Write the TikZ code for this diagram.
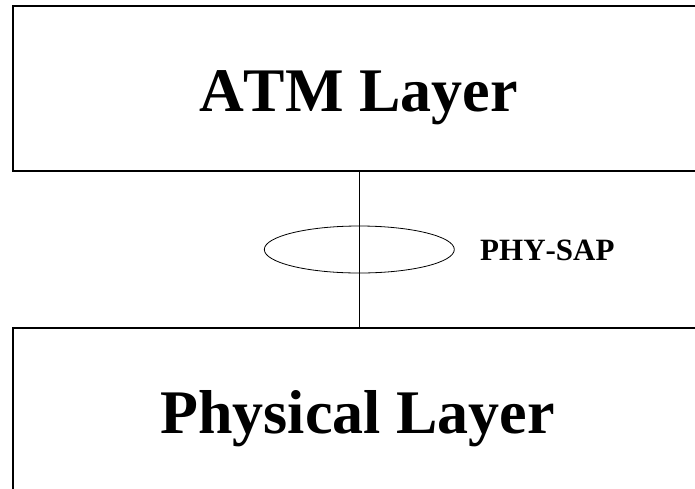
\documentclass[tikz,border=0pt]{standalone}
\usepackage{fontspec}
\setmainfont[Kerning=Off]{Liberation Serif}
\usetikzlibrary{shapes.geometric}
\begin{document}
\begin{tikzpicture}[x=1pt,y=-1pt,
  layerbox/.style={draw=black,line width=1.1pt,rectangle,inner sep=0pt,minimum width=690pt},
  bigtext/.style={font=\fontsize{62}{70}\selectfont\bfseries,anchor=base,inner sep=0pt},
  sap/.style={draw=black,line width=0.8pt,ellipse,inner sep=0pt,minimum width=190pt,minimum height=47pt},
  saptext/.style={font=\fontsize{31}{36}\selectfont\bfseries,anchor=base west,inner sep=0pt},
  link/.style={draw=black,line width=0.8pt}]
\useasboundingbox (0,0) rectangle (695,488);
\clip (0,0) rectangle (695,488);
\node[layerbox,minimum height=165pt] (atm) at (358,88.5) {};
\node[layerbox,minimum height=170pt] (phy) at (358,413) {};
\node[bigtext] (atmtext) at (358.5,111) {ATM Layer};
\node[bigtext] (phytext) at (357.5,433) {Physical Layer};
\node[sap] (phsap) at (359.3,249.5) {};
\node[saptext] (saplabel) at (480,260.7) {PHY-SAP};
\draw[link] (atm.south -| phsap.center) -- (phy.north -| phsap.center);
\end{tikzpicture}
\end{document}
